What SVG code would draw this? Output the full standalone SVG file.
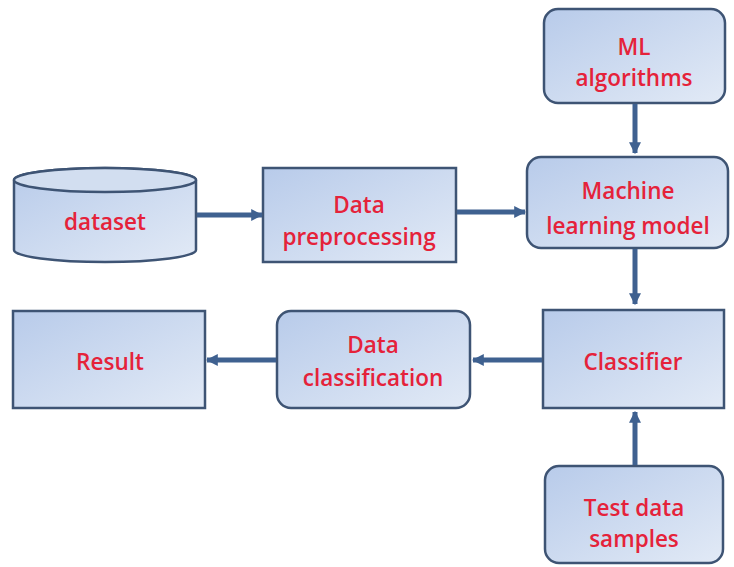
<svg xmlns="http://www.w3.org/2000/svg" width="734" height="567" viewBox="0 0 734 567">
<defs>
<linearGradient id="g" x1="0" y1="0" x2="1" y2="1">
<stop offset="0" stop-color="#b8cbea"/>
<stop offset="1" stop-color="#e2eaf6"/>
</linearGradient>
<marker id="ah" viewBox="0 0 10 10" refX="9" refY="5" markerWidth="2.4" markerHeight="2.4" orient="auto" markerUnits="strokeWidth">
<path d="M0,0 L10,5 L0,10 z" fill="#3f6190"/>
</marker>
<style>
.box{fill:url(#g);stroke:#3e5474;stroke-width:2.5}
.lbl{font-family:"Open Sans","Liberation Sans",sans-serif;font-size:22.5px;font-weight:600;fill:#e5223a;text-anchor:middle}
.c{stroke:#3f6190;stroke-width:5;fill:none;marker-end:url(#ah)}
</style>
</defs>
<rect width="734" height="567" fill="#ffffff"/>
<g id="dataset">
<path class="box" d="M14,180 L14,250 A91,12 0 0 0 196,250 L196,180 A91,12 0 0 0 14,180 Z"/>
<ellipse cx="105" cy="180" rx="91" ry="12" fill="#d2def0" stroke="#3e5474" stroke-width="2.5"/>
<text class="lbl" x="105" y="230">dataset</text>
</g>
<g id="preprocessing">
<rect class="box" x="263" y="168" width="193" height="94"/>
<text class="lbl" x="359" y="213">Data</text>
<text class="lbl" x="359" y="245">preprocessing</text>
</g>
<g id="ml-algorithms">
<rect class="box" x="544" y="9" width="181" height="94" rx="14"/>
<text class="lbl" x="634" y="55">ML</text>
<text class="lbl" x="634" y="86">algorithms</text>
</g>
<g id="ml-model">
<rect class="box" x="527" y="157" width="201" height="91" rx="14"/>
<text class="lbl" x="628" y="199">Machine</text>
<text class="lbl" x="628" y="234">learning model</text>
</g>
<g id="classifier">
<rect class="box" x="543" y="310" width="181" height="98"/>
<text class="lbl" x="633" y="370">Classifier</text>
</g>
<g id="test-data">
<rect class="box" x="545" y="466" width="178" height="97" rx="14"/>
<text class="lbl" x="634" y="516">Test data</text>
<text class="lbl" x="634" y="547">samples</text>
</g>
<g id="data-classification">
<rect class="box" x="277" y="311" width="193" height="97" rx="14"/>
<text class="lbl" x="373" y="353">Data</text>
<text class="lbl" x="373" y="386">classification</text>
</g>
<g id="result">
<rect class="box" x="13" y="311" width="192" height="97"/>
<text class="lbl" x="110" y="370">Result</text>
</g>
<g id="connectors">
<line class="c" x1="197" y1="215" x2="262" y2="215"/>
<line class="c" x1="457" y1="212" x2="525" y2="212"/>
<line class="c" x1="635" y1="104" x2="635" y2="153"/>
<line class="c" x1="635" y1="249" x2="635" y2="304"/>
<line class="c" x1="542" y1="360" x2="473" y2="360"/>
<line class="c" x1="276" y1="360" x2="207" y2="360"/>
<line class="c" x1="635" y1="465" x2="635" y2="412"/>
</g>
</svg>
